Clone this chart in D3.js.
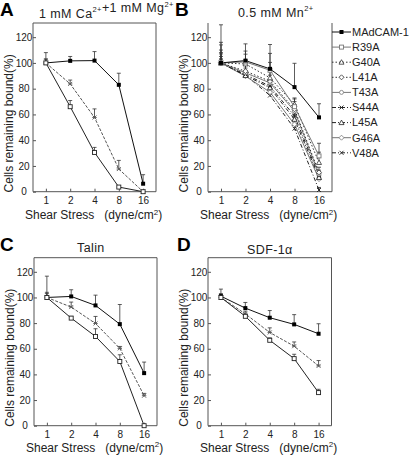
<!DOCTYPE html>
<html><head><meta charset="utf-8">
<script src="https://cdn.jsdelivr.net/npm/d3@7"></script>
<style>body{margin:0;background:#fff}svg{display:block;font-family:"Liberation Sans",Arial,sans-serif}</style>
</head><body><svg id="c" width="416" height="455"></svg>
<script>
// ---------- data ----------
const stressLabels = ["1","2","4","8","16"];
const yTicks = [0,20,40,60,80,100,120];

// Panel A: 1 mM Ca2+ + 1 mM Mg2+
const aTop = [100,101.6,101.8,83,6.2];
const aTopErr = [8,3.4,7,9,7];
const aMid = [100,83.7,57.6,17.6,0];
const aMidErr = [3,3,6.7,6.7,0];
const aLow = [100,66,30.5,3.6,0];
const aLowErr = [3,4.8,3.9,0,0];

// Panel B: 0.5 mM Mn2+
const legendNames = ["MAdCAM-1","R39A","G40A","L41A","T43A","S44A","L45A","G46A","V48A"];
const bMADCAM = [100,101.8,95.4,81.2,57.7];
const bR39A   = [100,100.8,94.3,66,27.8];
const bG40A   = [100,99.2,88.4,67.8,22.7];
const bL41A   = [100,93.6,85.8,64,15];
const bT43A   = [100,92.3,84.5,62.6,13.7];
const bS44A   = [100,91,82,58.8,12.4];
const bL45A   = [100,90.2,80.7,56.2,11];
const bG46A   = [100,89.7,77.3,52.3,9.8];
const bV48A   = [100,90.5,74.7,49,1.3];
const bMADCAMErr = [3,5,12,18.5,10.6];
const bR39AErr   = [29.6,14,20,6,9.8];
const bG40AErr   = [16,10,12,5,8];
const bL41AErr   = [14,8,8,6,4];
const bT43AErr   = [10,6,6,5,3];
const bS44AErr   = [8,5,5,4,3];
const bL45AErr   = [7,4,5,5,3];
const bG46AErr   = [5,3,4,4,2];
const bV48AErr   = [3,3,3,3,2];

// Panel C: Talin
const cTop = [100,100.8,93.8,79.2,41];
const cTopErr = [16.6,5.2,8,15.3,8.6];
const cMid = [100,92.5,79.7,60.3,23.4];
const cMidErr = [3,3.9,5.5,1.5,1.8];
const cLow = [100,83.9,69.6,50.1,0];
const cLowErr = [4,1.3,6,5.2,0];

// Panel D: SDF-1alpha
const dTop = [101,91.7,84.2,79,71.7];
const dTopErr = [5.5,4.4,5.6,7.6,7.8];
const dMid = [100,87.2,72.7,62,46.6];
const dMidErr = [3,2.1,3.6,3.3,4.2];
const dLow = [100,85.3,66.6,52.3,25.8];
const dLowErr = [2,1.2,1.9,3.4,2.6];

// ---------- styles ----------
const styles = {
  "MAdCAM-1": {dash:null, color:"#111", mk:"fsq"},
  "R39A": {dash:null, color:"#777", mk:"osq"},
  "G40A": {dash:"1.5,2", color:"#333", mk:"tri"},
  "L41A": {dash:"1.5,2", color:"#333", mk:"dia"},
  "T43A": {dash:null, color:"#777", mk:"cir"},
  "S44A": {dash:"4,2,1,2", color:"#222", mk:"ast"},
  "L45A": {dash:"4,2,1,2", color:"#222", mk:"tri"},
  "G46A": {dash:null, color:"#777", mk:"dia"},
  "V48A": {dash:"4,2,1,2", color:"#222", mk:"x"},
  "top": {dash:null, color:"#111", mk:"fsq"},
  "mid": {dash:"3,1.5", color:"#555", mk:"ast"},
  "low": {dash:null, color:"#222", mk:"osq"}
};

const svg = d3.select("#c");

function marker(g, type, x, y, color){
  const s = 2;
  if(type==="fsq") g.append("rect").attr("x",x-s).attr("y",y-s).attr("width",2*s).attr("height",2*s).attr("fill","#000");
  else if(type==="osq") g.append("rect").attr("x",x-s).attr("y",y-s).attr("width",2*s).attr("height",2*s).attr("fill","#fff").attr("stroke",color).attr("stroke-width",0.9);
  else if(type==="tri") g.append("path").attr("d",`M${x},${y-2.5}L${x+2.5},${y+2}L${x-2.5},${y+2}Z`).attr("fill","#fff").attr("stroke",color).attr("stroke-width",0.8);
  else if(type==="dia") g.append("path").attr("d",`M${x},${y-2.5}L${x+2.5},${y}L${x},${y+2.5}L${x-2.5},${y}Z`).attr("fill","#fff").attr("stroke",color).attr("stroke-width",0.8);
  else if(type==="cir") g.append("circle").attr("cx",x).attr("cy",y).attr("r",2).attr("fill","#fff").attr("stroke",color).attr("stroke-width",0.8);
  else if(type==="x"||type==="ast"){
    g.append("path").attr("d",`M${x-2},${y-2}L${x+2},${y+2}M${x-2},${y+2}L${x+2},${y-2}`+(type==="ast"?`M${x-2.2},${y}L${x+2.2},${y}`:"")).attr("stroke",color).attr("stroke-width",0.9).attr("fill","none");
  }
}

function panel(opt){
  const x = d3.scalePoint().domain(stressLabels).range([opt.left,opt.right]).padding(0.53);
  const y = d3.scaleLinear().domain([0,131]).range([opt.bottom,opt.top]);
  const g = svg.append("g");
  const fc = "#555";
  g.append("line").attr("x1",opt.left).attr("x2",opt.left).attr("y1",opt.top).attr("y2",opt.bottom).attr("stroke",fc);
  g.append("line").attr("x1",opt.right).attr("x2",opt.right).attr("y1",opt.top).attr("y2",opt.bottom).attr("stroke",fc);
  g.append("line").attr("x1",opt.left).attr("x2",opt.right).attr("y1",opt.bottom).attr("y2",opt.bottom).attr("stroke",fc);
  if(opt.topBorder) g.append("line").attr("x1",opt.left).attr("x2",opt.right).attr("y1",opt.top).attr("y2",opt.top).attr("stroke",fc);
  const ya = g.append("g").attr("transform",`translate(${opt.left},0)`).call(d3.axisRight(y).tickValues(yTicks).tickSize(3).tickFormat(d3.format("d")));
  ya.select(".domain").remove();
  ya.selectAll(".tick line").attr("stroke",fc);
  ya.selectAll(".tick text").attr("x",-9).attr("text-anchor","middle").attr("font-size",10).attr("font-family","Liberation Sans, Arial").attr("fill","#222");
  const xa = g.append("g").attr("transform",`translate(0,${opt.bottom})`).call(d3.axisTop(x).tickSize(3));
  xa.select(".domain").remove();
  xa.selectAll(".tick line").attr("stroke",fc);
  xa.selectAll(".tick text").attr("y",opt.tickY).attr("dy",0).attr("font-size",10).attr("font-family","Liberation Sans, Arial").attr("fill","#222");
  g.append("text").attr("transform",`translate(${opt.left-20.5},${(opt.top+opt.bottom)/2+16}) rotate(-90)`).attr("text-anchor","middle").attr("font-size",12).attr("fill","#222").text("Cells remaining bound(%)");
  const xl = g.append("text").attr("x",opt.left-8).attr("y",opt.bottom+opt.xlabY).attr("font-size",12).attr("fill","#222");
  xl.append("tspan").text("Shear Stress\u00a0\u00a0\u00a0(dyne/cm");
  xl.append("tspan").attr("font-size",8).attr("dy",-4.5).text("2");
  xl.append("tspan").attr("dy",4.5).text(")");
  const line = d3.line().x((d,i)=>x(stressLabels[i])).y(d=>y(d));
  opt.series.forEach(s=>{
    s.err.forEach((e,i)=>{
      if(e<=0) return;
      const xx = x(stressLabels[i]), y0 = y(s.values[i]), y1 = y(Math.min(s.values[i]+e,131));
      g.append("line").attr("x1",xx).attr("x2",xx).attr("y1",y0).attr("y2",y1).attr("stroke","#333").attr("stroke-width",0.8);
      g.append("line").attr("x1",xx-2).attr("x2",xx+2).attr("y1",y1).attr("y2",y1).attr("stroke","#333").attr("stroke-width",0.8);
    });
  });
  opt.series.forEach(s=>{
    const st = styles[s.style];
    g.append("path").datum(s.values).attr("d",line).attr("fill","none").attr("stroke",st.color).attr("stroke-width",1).attr("stroke-dasharray",st.dash);
  });
  opt.series.forEach(s=>{
    const st = styles[s.style];
    s.values.forEach((v,i)=>marker(g,st.mk,x(stressLabels[i]),y(v),st.color));
  });
  g.append("text").attr("x",opt.letterX).attr("y",opt.top-7).attr("font-size",19).attr("font-weight","bold").attr("fill","#000").text(opt.letter);
}

function titleText(x, yb, parts){
  const t = svg.append("text").attr("x",x).attr("y",yb).attr("font-size",12.5).attr("letter-spacing",0.4).attr("fill","#222");
  parts.forEach(p=>{
    if(p.sup){ t.append("tspan").attr("font-size",7.5).attr("dy",-5.5).text(p.t); t.append("tspan").attr("dy",5.5).text(""); }
    else t.append("tspan").text(p.t);
  });
  return t;
}

panel({left:33,right:156,top:23,bottom:191.7,topBorder:true,tickY:12,xlabY:27.5,letter:"A",letterX:0,
  series:[{values:aTop,err:aTopErr,style:"top"},{values:aMid,err:aMidErr,style:"mid"},{values:aLow,err:aLowErr,style:"low"}]});
panel({left:208,right:332,top:23,bottom:191.7,topBorder:false,tickY:12,xlabY:27.5,letter:"B",letterX:175,
  series:[
    {values:bV48A,err:bV48AErr,style:"V48A"},{values:bG46A,err:bG46AErr,style:"G46A"},{values:bL45A,err:bL45AErr,style:"L45A"},
    {values:bS44A,err:bS44AErr,style:"S44A"},{values:bT43A,err:bT43AErr,style:"T43A"},{values:bL41A,err:bL41AErr,style:"L41A"},
    {values:bG40A,err:bG40AErr,style:"G40A"},{values:bR39A,err:bR39AErr,style:"R39A"},{values:bMADCAM,err:bMADCAMErr,style:"MAdCAM-1"}]});
panel({left:34,right:157,top:257.7,bottom:425.7,topBorder:true,tickY:12.5,xlabY:26,letter:"C",letterX:0,
  series:[{values:cTop,err:cTopErr,style:"top"},{values:cMid,err:cMidErr,style:"mid"},{values:cLow,err:cLowErr,style:"low"}]});
panel({left:208,right:331.5,top:257.7,bottom:425.7,topBorder:true,tickY:12.5,xlabY:26,letter:"D",letterX:177,
  series:[{values:dTop,err:dTopErr,style:"top"},{values:dMid,err:dMidErr,style:"mid"},{values:dLow,err:dLowErr,style:"low"}]});

titleText(39,17.5,[{t:"1 mM Ca"},{t:"2+",sup:true},{t:"+1 mM Mg"},{t:"2+",sup:true}]);
titleText(238,16.5,[{t:"0.5 mM Mn"},{t:"2+",sup:true}]);
titleText(77,251.5,[{t:"Talin"}]);
titleText(247,254,[{t:"SDF-1α"}]);

const lg = svg.append("g");
legendNames.forEach((n,i)=>{
  const st = styles[n];
  const yy = 32 + i*15.1;
  lg.append("line").attr("x1",332).attr("x2",351).attr("y1",yy).attr("y2",yy).attr("stroke",st.color).attr("stroke-width",1).attr("stroke-dasharray",st.dash);
  marker(lg,st.mk,341.5,yy,st.color);
  lg.append("text").attr("x",352).attr("y",yy).attr("dy","0.35em").attr("font-size",11).attr("fill","#222").text(n);
});
</script></body></html>
